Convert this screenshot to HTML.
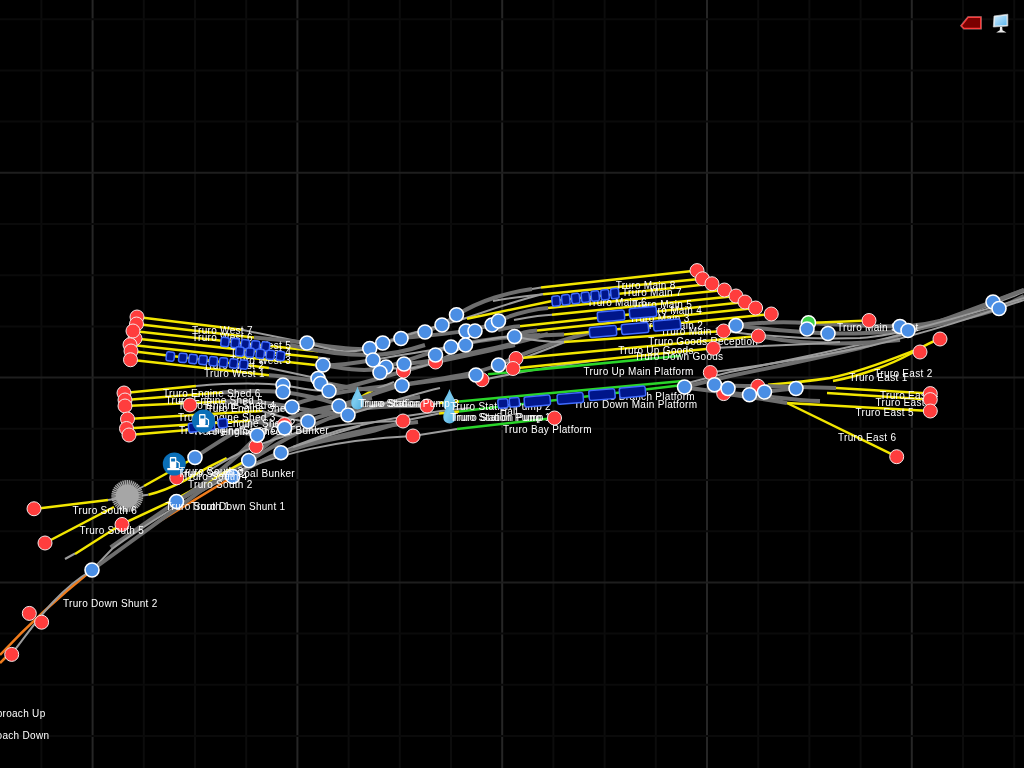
<!DOCTYPE html>
<html><head><meta charset="utf-8"><style>
html,body{margin:0;padding:0;background:#000;overflow:hidden;width:1024px;height:768px}
svg{display:block}
text{font-family:"Liberation Sans",sans-serif;font-size:10px;fill:#fff;letter-spacing:0.3px}
svg{will-change:transform}
</style></head><body>
<svg width="1024" height="768" viewBox="0 0 1024 768">
<line x1="41.4" y1="0" x2="41.4" y2="768" stroke="#0c0c0c" stroke-width="2"/>
<line x1="92.6" y1="0" x2="92.6" y2="768" stroke="#262626" stroke-width="2"/>
<line x1="143.8" y1="0" x2="143.8" y2="768" stroke="#0c0c0c" stroke-width="2"/>
<line x1="195.0" y1="0" x2="195.0" y2="768" stroke="#0c0c0c" stroke-width="2"/>
<line x1="246.2" y1="0" x2="246.2" y2="768" stroke="#0c0c0c" stroke-width="2"/>
<line x1="297.4" y1="0" x2="297.4" y2="768" stroke="#262626" stroke-width="2"/>
<line x1="348.6" y1="0" x2="348.6" y2="768" stroke="#0c0c0c" stroke-width="2"/>
<line x1="399.8" y1="0" x2="399.8" y2="768" stroke="#0c0c0c" stroke-width="2"/>
<line x1="451.0" y1="0" x2="451.0" y2="768" stroke="#0c0c0c" stroke-width="2"/>
<line x1="502.2" y1="0" x2="502.2" y2="768" stroke="#262626" stroke-width="2"/>
<line x1="553.4" y1="0" x2="553.4" y2="768" stroke="#0c0c0c" stroke-width="2"/>
<line x1="604.6" y1="0" x2="604.6" y2="768" stroke="#0c0c0c" stroke-width="2"/>
<line x1="655.8" y1="0" x2="655.8" y2="768" stroke="#0c0c0c" stroke-width="2"/>
<line x1="707.0" y1="0" x2="707.0" y2="768" stroke="#262626" stroke-width="2"/>
<line x1="758.2" y1="0" x2="758.2" y2="768" stroke="#0c0c0c" stroke-width="2"/>
<line x1="809.4" y1="0" x2="809.4" y2="768" stroke="#0c0c0c" stroke-width="2"/>
<line x1="860.6" y1="0" x2="860.6" y2="768" stroke="#0c0c0c" stroke-width="2"/>
<line x1="911.8" y1="0" x2="911.8" y2="768" stroke="#262626" stroke-width="2"/>
<line x1="963.0" y1="0" x2="963.0" y2="768" stroke="#0c0c0c" stroke-width="2"/>
<line x1="1014.2" y1="0" x2="1014.2" y2="768" stroke="#0c0c0c" stroke-width="2"/>
<line x1="0" y1="19.2" x2="1024" y2="19.2" stroke="#0a0a0a" stroke-width="2"/>
<line x1="0" y1="70.4" x2="1024" y2="70.4" stroke="#0a0a0a" stroke-width="2"/>
<line x1="0" y1="121.6" x2="1024" y2="121.6" stroke="#0a0a0a" stroke-width="2"/>
<line x1="0" y1="172.8" x2="1024" y2="172.8" stroke="#1e1e1e" stroke-width="2"/>
<line x1="0" y1="224.0" x2="1024" y2="224.0" stroke="#0a0a0a" stroke-width="2"/>
<line x1="0" y1="275.2" x2="1024" y2="275.2" stroke="#0a0a0a" stroke-width="2"/>
<line x1="0" y1="326.4" x2="1024" y2="326.4" stroke="#0a0a0a" stroke-width="2"/>
<line x1="0" y1="377.6" x2="1024" y2="377.6" stroke="#1e1e1e" stroke-width="2"/>
<line x1="0" y1="428.8" x2="1024" y2="428.8" stroke="#0a0a0a" stroke-width="2"/>
<line x1="0" y1="480.0" x2="1024" y2="480.0" stroke="#0a0a0a" stroke-width="2"/>
<line x1="0" y1="531.2" x2="1024" y2="531.2" stroke="#0a0a0a" stroke-width="2"/>
<line x1="0" y1="582.4" x2="1024" y2="582.4" stroke="#1e1e1e" stroke-width="2"/>
<line x1="0" y1="633.6" x2="1024" y2="633.6" stroke="#0a0a0a" stroke-width="2"/>
<line x1="0" y1="684.8" x2="1024" y2="684.8" stroke="#0a0a0a" stroke-width="2"/>
<line x1="0" y1="736.0" x2="1024" y2="736.0" stroke="#0a0a0a" stroke-width="2"/>
<path d="M 0 655 Q 40 612 92 570" stroke="#f07c1c" stroke-width="2.5" fill="none" stroke-linecap="butt"/>
<path d="M 0 663 L 11 652" stroke="#f07c1c" stroke-width="2.5" fill="none" stroke-linecap="butt"/>
<path d="M 11.7 654 C 35 624 55 592 92 570" stroke="#9c9c9c" stroke-width="2" fill="none" stroke-linecap="butt"/>
<path d="M 155 524 L 229 479" stroke="#f07c1c" stroke-width="2.5" fill="none" stroke-linecap="butt"/>
<path d="M 110.6 547.4 C 130 534 160 513 176 502 C 200 487 215 480 232 476 C 250 468 265 458 281 452 C 320 440 360 430 400 424 L 418 422" stroke="#6e6e6e" stroke-width="4" fill="none" stroke-linecap="butt"/>
<path d="M 92 570 L 112 549 C 140 528 170 510 200 492 C 240 470 290 445 340 430 C 380 420 420 412 470 408" stroke="#9c9c9c" stroke-width="2" fill="none" stroke-linecap="butt"/>
<path d="M 92 570 L 200 491.4 C 220 477 235 468 249 461 C 275 445 300 430 330 418 C 360 408 400 400 420 397" stroke="#6e6e6e" stroke-width="4" fill="none" stroke-linecap="butt"/>
<path d="M 65 559 L 75 553.5" stroke="#9c9c9c" stroke-width="2" fill="none" stroke-linecap="butt"/>
<path d="M 75 554 L 122 524 L 176 499 L 256 455" stroke="#f2e600" stroke-width="2.5" fill="none" stroke-linecap="butt"/>
<path d="M 34 509 L 108 500" stroke="#f2e600" stroke-width="2.5" fill="none" stroke-linecap="butt"/>
<path d="M 108 500 L 122 498" stroke="#9c9c9c" stroke-width="2" fill="none" stroke-linecap="butt"/>
<path d="M 45 543 L 114 507" stroke="#f2e600" stroke-width="2.5" fill="none" stroke-linecap="butt"/>
<path d="M 136 490.5 L 144 486" stroke="#9c9c9c" stroke-width="2" fill="none" stroke-linecap="butt"/>
<path d="M 144 486 L 195 457.5" stroke="#f2e600" stroke-width="2.5" fill="none" stroke-linecap="butt"/>
<path d="M 142 495.5 L 148.4 494.7" stroke="#9c9c9c" stroke-width="2" fill="none" stroke-linecap="butt"/>
<path d="M 148.4 494.7 C 160 492 172 487 184.4 480.6 C 195 475 205 469 209.4 466.6 L 226.6 458" stroke="#f2e600" stroke-width="2.5" fill="none" stroke-linecap="butt"/>
<path d="M 176 502 C 210 480 240 455 258 435 C 280 420 300 412 340 405 L 372 398" stroke="#6e6e6e" stroke-width="4" fill="none" stroke-linecap="butt"/>
<path d="M 195 457 C 215 445 240 425 292 405 C 320 395 360 388 402 385 L 476 375" stroke="#6e6e6e" stroke-width="4" fill="none" stroke-linecap="butt"/>
<path d="M 232 476 C 260 460 290 447 340 438 C 360 434 380 431 403 421" stroke="#6e6e6e" stroke-width="3.5" fill="none" stroke-linecap="butt"/>
<path d="M 249 461 C 265 445 280 432 308 421 C 330 412 360 405 427 406" stroke="#6e6e6e" stroke-width="4" fill="none" stroke-linecap="butt"/>
<path d="M 210 470 C 240 450 270 440 300 432 C 340 424 380 421 403 421" stroke="#9c9c9c" stroke-width="2" fill="none" stroke-linecap="butt"/>
<path d="M 240 470 C 280 455 330 440 413 436 L 457 429" stroke="#9c9c9c" stroke-width="2" fill="none" stroke-linecap="butt"/>
<path d="M 293 447 C 320 438 340 432 360 426" stroke="#9c9c9c" stroke-width="2" fill="none" stroke-linecap="butt"/>
<path d="M 457 429 L 554 418" stroke="#2ad52a" stroke-width="2.5" fill="none" stroke-linecap="butt"/>
<path d="M 348 404.4 L 372.7 390.3" stroke="#f2e600" stroke-width="2.5" fill="none" stroke-linecap="butt"/>
<path d="M 372.7 390.3 L 394 382" stroke="#9c9c9c" stroke-width="2" fill="none" stroke-linecap="butt"/>
<path d="M 403 421 L 439 413.5" stroke="#9c9c9c" stroke-width="2" fill="none" stroke-linecap="butt"/>
<path d="M 439 413.5 L 459 411.5" stroke="#f2e600" stroke-width="2.5" fill="none" stroke-linecap="butt"/>
<path d="M 459 411.5 L 683 385" stroke="#2ad52a" stroke-width="2.5" fill="none" stroke-linecap="butt"/>
<path d="M 427 406 L 439 403" stroke="#9c9c9c" stroke-width="2" fill="none" stroke-linecap="butt"/>
<path d="M 439 403 L 459 401.5" stroke="#f2e600" stroke-width="2.5" fill="none" stroke-linecap="butt"/>
<path d="M 459 401.5 L 683 381" stroke="#2ad52a" stroke-width="2.5" fill="none" stroke-linecap="butt"/>
<path d="M 684 387 L 730 376 C 760 370 800 362 860 348 C 920 330 970 310 1024 290" stroke="#6e6e6e" stroke-width="4" fill="none" stroke-linecap="butt"/>
<path d="M 684 384 L 730 372 C 780 362 840 350 900 335 C 950 322 990 305 1024 292" stroke="#9c9c9c" stroke-width="2" fill="none" stroke-linecap="butt"/>
<path d="M 124 393 L 196 386" stroke="#f2e600" stroke-width="2.5" fill="none" stroke-linecap="butt"/>
<path d="M 125 400 L 222 392.5" stroke="#f2e600" stroke-width="2.5" fill="none" stroke-linecap="butt"/>
<path d="M 125 406 L 225 401.4" stroke="#f2e600" stroke-width="2.5" fill="none" stroke-linecap="butt"/>
<path d="M 127.5 419 L 262 411" stroke="#f2e600" stroke-width="2.5" fill="none" stroke-linecap="butt"/>
<path d="M 126.5 428.5 L 250 420.7" stroke="#f2e600" stroke-width="2.5" fill="none" stroke-linecap="butt"/>
<path d="M 129 435 L 194 429.5" stroke="#f2e600" stroke-width="2.5" fill="none" stroke-linecap="butt"/>
<path d="M 196 386 C 230 383 260 383 283 385 C 300 388 315 392 330 391" stroke="#9c9c9c" stroke-width="2" fill="none" stroke-linecap="butt"/>
<path d="M 222 392.5 C 250 390 270 391 283 392 C 300 394 330 400 339 406" stroke="#6e6e6e" stroke-width="4" fill="none" stroke-linecap="butt"/>
<path d="M 225 401.4 C 250 400 276 404 292 407 C 310 412 330 412 348 415" stroke="#6e6e6e" stroke-width="4" fill="none" stroke-linecap="butt"/>
<path d="M 262 411 C 275 415 290 420 308 421.5" stroke="#9c9c9c" stroke-width="2" fill="none" stroke-linecap="butt"/>
<path d="M 250 420.7 C 262 422 275 426 284.6 428" stroke="#6e6e6e" stroke-width="4" fill="none" stroke-linecap="butt"/>
<path d="M 194 429.5 C 220 430 240 432 257 435" stroke="#6e6e6e" stroke-width="4" fill="none" stroke-linecap="butt"/>
<path d="M 300 418 C 320 410 340 406 360 403" stroke="#6e6e6e" stroke-width="4" fill="none" stroke-linecap="butt"/>
<path d="M 137 317 L 241.7 329.8" stroke="#f2e600" stroke-width="2.5" fill="none" stroke-linecap="butt"/>
<path d="M 136.5 324 L 254 337.6" stroke="#f2e600" stroke-width="2.5" fill="none" stroke-linecap="butt"/>
<path d="M 133 331 L 318 351.25" stroke="#f2e600" stroke-width="2.5" fill="none" stroke-linecap="butt"/>
<path d="M 135 338.5 L 318 357.6" stroke="#f2e600" stroke-width="2.5" fill="none" stroke-linecap="butt"/>
<path d="M 130 344.75 L 315 365" stroke="#f2e600" stroke-width="2.5" fill="none" stroke-linecap="butt"/>
<path d="M 131 351 L 269 367.9" stroke="#f2e600" stroke-width="2.5" fill="none" stroke-linecap="butt"/>
<path d="M 130.5 359.75 L 269 375.2" stroke="#f2e600" stroke-width="2.5" fill="none" stroke-linecap="butt"/>
<path d="M 241.7 329.8 L 307 343" stroke="#9c9c9c" stroke-width="2" fill="none" stroke-linecap="butt"/>
<path d="M 254 337.6 C 270 339 290 341 307 343 C 330 347 350 350 370 349" stroke="#6e6e6e" stroke-width="4" fill="none" stroke-linecap="butt"/>
<path d="M 318 351.25 L 330 352.5" stroke="#9c9c9c" stroke-width="2" fill="none" stroke-linecap="butt"/>
<path d="M 318 357.6 L 330 359" stroke="#9c9c9c" stroke-width="2" fill="none" stroke-linecap="butt"/>
<path d="M 269 367.9 L 318 378.5" stroke="#9c9c9c" stroke-width="2" fill="none" stroke-linecap="butt"/>
<path d="M 269 375.2 C 290 377 300 379 311 380 C 330 383 350 390 380 390 L 402 385" stroke="#6e6e6e" stroke-width="4" fill="none" stroke-linecap="butt"/>
<path d="M 315 365 C 330 366 345 365 373 360" stroke="#6e6e6e" stroke-width="4" fill="none" stroke-linecap="butt"/>
<path d="M 307 343 C 330 350 350 355 369 348" stroke="#9c9c9c" stroke-width="2" fill="none" stroke-linecap="butt"/>
<path d="M 290 345 C 320 352 345 355 370 355 C 390 355 410 350 425 345" stroke="#6e6e6e" stroke-width="4" fill="none" stroke-linecap="butt"/>
<path d="M 323 365 C 350 370 370 372 386 367 C 410 360 430 352 456 345 C 490 338 510 337 540 335" stroke="#6e6e6e" stroke-width="4" fill="none" stroke-linecap="butt"/>
<path d="M 329 391 C 360 385 390 375 435 362 C 470 355 500 348 515 345" stroke="#6e6e6e" stroke-width="4" fill="none" stroke-linecap="butt"/>
<path d="M 339 406 C 370 395 390 388 402 385 C 440 378 470 376 498 365 C 530 350 560 340 600 330" stroke="#6e6e6e" stroke-width="4" fill="none" stroke-linecap="butt"/>
<path d="M 348 415 C 380 405 410 395 440 388" stroke="#9c9c9c" stroke-width="2" fill="none" stroke-linecap="butt"/>
<path d="M 370 349 C 390 340 410 334 425 331 C 440 328 450 320 457 315 C 480 300 510 292 532 289" stroke="#6e6e6e" stroke-width="4" fill="none" stroke-linecap="butt"/>
<path d="M 383 343 C 400 338 420 330 442 325 C 470 318 500 305 543 294" stroke="#9c9c9c" stroke-width="2" fill="none" stroke-linecap="butt"/>
<path d="M 400 338 C 430 336 450 333 466 331 L 492 325" stroke="#6e6e6e" stroke-width="4" fill="none" stroke-linecap="butt"/>
<path d="M 373 360 C 400 355 420 352 451 347 C 470 343 490 338 514 336" stroke="#9c9c9c" stroke-width="2" fill="none" stroke-linecap="butt"/>
<path d="M 386 367 C 410 372 430 368 466 345" stroke="#9c9c9c" stroke-width="2" fill="none" stroke-linecap="butt"/>
<path d="M 404 364 C 430 362 450 358 476 352 C 500 347 520 342 548 334" stroke="#6e6e6e" stroke-width="4" fill="none" stroke-linecap="butt"/>
<path d="M 482 380 C 520 372 560 365 600 360" stroke="#9c9c9c" stroke-width="2" fill="none" stroke-linecap="butt"/>
<path d="M 498 365 C 520 360 540 352 565 342" stroke="#9c9c9c" stroke-width="2" fill="none" stroke-linecap="butt"/>
<path d="M 532 289 L 541 287.5" stroke="#9c9c9c" stroke-width="2" fill="none" stroke-linecap="butt"/>
<path d="M 541 287.5 L 697 270.6" stroke="#f2e600" stroke-width="2.5" fill="none" stroke-linecap="butt"/>
<path d="M 543 294.2 L 702.5 278.75" stroke="#f2e600" stroke-width="2.5" fill="none" stroke-linecap="butt"/>
<path d="M 467 318.8 L 552 301" stroke="#f2e600" stroke-width="2.5" fill="none" stroke-linecap="butt"/>
<path d="M 552 301 L 712 283.75" stroke="#f2e600" stroke-width="2.5" fill="none" stroke-linecap="butt"/>
<path d="M 548 308 L 724.4 290" stroke="#f2e600" stroke-width="2.5" fill="none" stroke-linecap="butt"/>
<path d="M 552 314.7 L 736 296" stroke="#f2e600" stroke-width="2.5" fill="none" stroke-linecap="butt"/>
<path d="M 520 326.3 L 745 302" stroke="#f2e600" stroke-width="2.5" fill="none" stroke-linecap="butt"/>
<path d="M 537 330.4 L 755.6 308" stroke="#f2e600" stroke-width="2.5" fill="none" stroke-linecap="butt"/>
<path d="M 564 334.5 L 771.25 314" stroke="#f2e600" stroke-width="2.5" fill="none" stroke-linecap="butt"/>
<path d="M 564 342 L 723.6 331" stroke="#f2e600" stroke-width="2.5" fill="none" stroke-linecap="butt"/>
<path d="M 516 358.5 L 758.4 336" stroke="#f2e600" stroke-width="2.5" fill="none" stroke-linecap="butt"/>
<path d="M 513 368.5 L 713.4 348.3" stroke="#f2e600" stroke-width="2.5" fill="none" stroke-linecap="butt"/>
<path d="M 488 374.3 L 681 355.7" stroke="#2ad52a" stroke-width="2.5" fill="none" stroke-linecap="butt"/>
<path d="M 500 320 C 520 312 535 309 548 308" stroke="#6e6e6e" stroke-width="4" fill="none" stroke-linecap="butt"/>
<path d="M 514 320 C 530 317 540 315 552 314.7" stroke="#9c9c9c" stroke-width="2" fill="none" stroke-linecap="butt"/>
<path d="M 498 330 C 505 328 510 327 520 326.3" stroke="#6e6e6e" stroke-width="4" fill="none" stroke-linecap="butt"/>
<path d="M 514 336.5 C 520 333 528 331 537 330.4" stroke="#6e6e6e" stroke-width="4" fill="none" stroke-linecap="butt"/>
<path d="M 514 336.5 L 564 334.5" stroke="#6e6e6e" stroke-width="4" fill="none" stroke-linecap="butt"/>
<path d="M 514 336.5 C 530 340 545 342 564 342" stroke="#9c9c9c" stroke-width="2" fill="none" stroke-linecap="butt"/>
<path d="M 493 301 C 510 298 525 296 543 294.2" stroke="#9c9c9c" stroke-width="2" fill="none" stroke-linecap="butt"/>
<path d="M 736 325.5 C 760 322 790 322 808 323 C 840 325 870 326 900 326.5 C 940 325 970 312 993 302 L 1024 290" stroke="#6e6e6e" stroke-width="4" fill="none" stroke-linecap="butt"/>
<path d="M 736 325.5 C 770 330 800 332 828 333.5 C 860 334 890 332 908 330.5 C 940 325 980 315 999 308.5 L 1024 296" stroke="#6e6e6e" stroke-width="4" fill="none" stroke-linecap="butt"/>
<path d="M 723.6 331 C 760 336 800 340 860 338 C 900 335 950 320 1024 298" stroke="#9c9c9c" stroke-width="2" fill="none" stroke-linecap="butt"/>
<path d="M 758 336 C 800 345 850 345 900 340" stroke="#6e6e6e" stroke-width="4" fill="none" stroke-linecap="butt"/>
<path d="M 713 348 C 760 346 800 345 840 342" stroke="#9c9c9c" stroke-width="2" fill="none" stroke-linecap="butt"/>
<path d="M 710 372.5 C 760 366 820 356 870 346 C 930 332 980 315 1024 300" stroke="#9c9c9c" stroke-width="2" fill="none" stroke-linecap="butt"/>
<path d="M 808 323 L 869 320.5" stroke="#f2e600" stroke-width="2.5" fill="none" stroke-linecap="butt"/>
<path d="M 768 384.75 C 790 383 810 381 830 378 C 860 372 890 360 913 351 L 920 352" stroke="#f2e600" stroke-width="2.5" fill="none" stroke-linecap="butt"/>
<path d="M 833 381 C 860 376 890 365 910 354 C 922 347 930 342 940 339" stroke="#f2e600" stroke-width="2.5" fill="none" stroke-linecap="butt"/>
<path d="M 764 392 C 780 390 790 389 796 388.5" stroke="#6e6e6e" stroke-width="4" fill="none" stroke-linecap="butt"/>
<path d="M 684 387 C 700 390 720 392 750 395 C 770 396 790 400 820 401" stroke="#6e6e6e" stroke-width="4" fill="none" stroke-linecap="butt"/>
<path d="M 787 403 L 930 411" stroke="#f2e600" stroke-width="2.5" fill="none" stroke-linecap="butt"/>
<path d="M 827 393 L 930 399.6" stroke="#f2e600" stroke-width="2.5" fill="none" stroke-linecap="butt"/>
<path d="M 836 388 L 930 393.6" stroke="#f2e600" stroke-width="2.5" fill="none" stroke-linecap="butt"/>
<path d="M 787 403 L 896.7 456.7" stroke="#f2e600" stroke-width="2.5" fill="none" stroke-linecap="butt"/>
<path d="M 764 397 L 787 403" stroke="#9c9c9c" stroke-width="2" fill="none" stroke-linecap="butt"/>
<path d="M 714 384.75 C 730 386 740 386 758 386 L 836 388" stroke="#6e6e6e" stroke-width="4" fill="none" stroke-linecap="butt"/>
<path d="M 723.7 393.6 C 740 396 760 398 787 403" stroke="#6e6e6e" stroke-width="4" fill="none" stroke-linecap="butt"/>
<circle cx="808.5" cy="322.7" r="7" fill="#3fd44a" stroke="#fff" stroke-width="1.5"/>
<defs><linearGradient id="drp" x1="0" y1="0" x2="1" y2="1"><stop offset="0" stop-color="#4fb0e0"/><stop offset="0.45" stop-color="#7cccf0"/><stop offset="1" stop-color="#4aa8dc"/></linearGradient></defs>
<path d="M 357.5 386.5 C 359.5 393.4 363.75 397.625 363.75 403.25 A 6.25 6.25 0 0 1 351.25 403.25 C 351.25 397.625 355.5 393.4 357.5 386.5 Z" fill="url(#drp)"/>
<path d="M 449.5 389 C 451.5 395.6 455.75 399.125 455.75 404.75 A 6.25 6.25 0 0 1 443.25 404.75 C 443.25 399.125 447.5 395.6 449.5 389 Z" fill="url(#drp)"/>
<path d="M 449.5 401 C 451.5 407.75 455.75 411.625 455.75 417.25 A 6.25 6.25 0 0 1 443.25 417.25 C 443.25 411.625 447.5 407.75 449.5 401 Z" fill="url(#drp)"/>
<text x="192" y="333.5" text-anchor="start">Truro West 7</text>
<text x="192" y="340.5" text-anchor="start">Truro West 6</text>
<text x="291" y="349" text-anchor="end">Truro West 5</text>
<text x="291" y="355.5" text-anchor="end">Truro West 4</text>
<text x="291" y="364" text-anchor="end">Truro West 3</text>
<text x="264" y="368.5" text-anchor="end">Truro West 2</text>
<text x="204" y="376.5" text-anchor="start">Truro West 1</text>
<text x="163" y="397" text-anchor="start">Truro Engine Shed 6</text>
<text x="165.5" y="404" text-anchor="start">Truro Engine Shed 5</text>
<text x="178" y="409" text-anchor="start">Truro Engine Shed 4</text>
<text x="203" y="411.5" text-anchor="start">Truro Engine Shed 4</text>
<text x="178" y="421" text-anchor="start">Truro Engine Shed 3</text>
<text x="295.5" y="426.5" text-anchor="end">Truro Engine Shed 2</text>
<text x="193" y="435.3" text-anchor="start">Truro Engine Shed 1</text>
<text x="329" y="433.5" text-anchor="end">Truro Engine Shed Coal Bunker</text>
<text x="63" y="606.5" text-anchor="start">Truro Down Shunt 2</text>
<text x="45.5" y="717.3" text-anchor="end">Truro Approach Up</text>
<text x="49.3" y="738.5" text-anchor="end">Truro Approach Down</text>
<text x="450.3" y="409.7" text-anchor="start">Truro Station Pump 2</text>
<text x="450.3" y="420.5" text-anchor="start">Truro Station Pump 1</text>
<text x="452" y="420.5" text-anchor="start">Truro Station Pump</text>
<text x="499.7" y="415" text-anchor="start">Hall</text>
<text x="615.75" y="288.5" text-anchor="start">Truro Main 8</text>
<text x="622" y="295.5" text-anchor="start">Truro Main 7</text>
<text x="587" y="306" text-anchor="start">Truro Main 6</text>
<text x="692" y="307.75" text-anchor="end">Truro Main 5</text>
<text x="702" y="314" text-anchor="end">Truro Main 4</text>
<text x="689.5" y="321.5" text-anchor="end">Truro Main 3</text>
<text x="703" y="328.5" text-anchor="end">Truro Main 2</text>
<text x="720.5" y="334.75" text-anchor="end">Truro Main 1</text>
<text x="648.25" y="344.75" text-anchor="start">Truro Goods Reception</text>
<text x="618.25" y="354" text-anchor="start">Truro Up Goods</text>
<text x="634.5" y="359.75" text-anchor="start">Truro Down Goods</text>
<text x="583.5" y="374.6" text-anchor="start">Truro Up Main Platform</text>
<text x="695" y="399.7" text-anchor="end">Truro Branch Platform</text>
<text x="573.8" y="408.3" text-anchor="start">Truro Down Main Platform</text>
<text x="502.9" y="433" text-anchor="start">Truro Bay Platform</text>
<text x="837" y="330.5" text-anchor="start">Truro Main Shunt</text>
<text x="874.25" y="377.25" text-anchor="start">Truro East 2</text>
<text x="849.25" y="380.5" text-anchor="start">Truro East 1</text>
<text x="880" y="399" text-anchor="start">Truro East 4</text>
<text x="875.5" y="405.5" text-anchor="start">Truro East 3</text>
<text x="855.5" y="415.5" text-anchor="start">Truro East 5</text>
<text x="838" y="440.5" text-anchor="start">Truro East 6</text>
<circle cx="137" cy="317" r="7" fill="#ff3d3d" stroke="#f4e8e8" stroke-width="1"/>
<circle cx="136.5" cy="324" r="7" fill="#ff3d3d" stroke="#f4e8e8" stroke-width="1"/>
<circle cx="135" cy="338.5" r="7" fill="#ff3d3d" stroke="#f4e8e8" stroke-width="1"/>
<circle cx="130" cy="344.75" r="7" fill="#ff3d3d" stroke="#f4e8e8" stroke-width="1"/>
<circle cx="131" cy="351" r="7" fill="#ff3d3d" stroke="#f4e8e8" stroke-width="1"/>
<circle cx="130.5" cy="359.75" r="7" fill="#ff3d3d" stroke="#f4e8e8" stroke-width="1"/>
<circle cx="133" cy="331" r="7" fill="#ff3d3d" stroke="#f4e8e8" stroke-width="1"/>
<circle cx="124" cy="393" r="7" fill="#ff3d3d" stroke="#f4e8e8" stroke-width="1"/>
<circle cx="125" cy="400" r="7" fill="#ff3d3d" stroke="#f4e8e8" stroke-width="1"/>
<circle cx="125" cy="406" r="7" fill="#ff3d3d" stroke="#f4e8e8" stroke-width="1"/>
<circle cx="127.5" cy="419" r="7" fill="#ff3d3d" stroke="#f4e8e8" stroke-width="1"/>
<circle cx="126.5" cy="428.5" r="7" fill="#ff3d3d" stroke="#f4e8e8" stroke-width="1"/>
<circle cx="129" cy="435" r="7" fill="#ff3d3d" stroke="#f4e8e8" stroke-width="1"/>
<circle cx="190" cy="405" r="7" fill="#ff3d3d" stroke="#f4e8e8" stroke-width="1"/>
<circle cx="256" cy="446.5" r="7" fill="#ff3d3d" stroke="#f4e8e8" stroke-width="1"/>
<circle cx="284.5" cy="424.5" r="7" fill="#ff3d3d" stroke="#f4e8e8" stroke-width="1"/>
<circle cx="176.75" cy="477.75" r="7" fill="#ff3d3d" stroke="#f4e8e8" stroke-width="1"/>
<circle cx="403.5" cy="371" r="7" fill="#ff3d3d" stroke="#f4e8e8" stroke-width="1"/>
<circle cx="435.5" cy="362" r="7" fill="#ff3d3d" stroke="#f4e8e8" stroke-width="1"/>
<circle cx="482" cy="379.75" r="7" fill="#ff3d3d" stroke="#f4e8e8" stroke-width="1"/>
<circle cx="427" cy="406" r="7" fill="#ff3d3d" stroke="#f4e8e8" stroke-width="1"/>
<circle cx="403" cy="421" r="7" fill="#ff3d3d" stroke="#f4e8e8" stroke-width="1"/>
<circle cx="413" cy="436" r="7" fill="#ff3d3d" stroke="#f4e8e8" stroke-width="1"/>
<circle cx="516" cy="358.5" r="7" fill="#ff3d3d" stroke="#f4e8e8" stroke-width="1"/>
<circle cx="513" cy="368.5" r="7" fill="#ff3d3d" stroke="#f4e8e8" stroke-width="1"/>
<circle cx="554.5" cy="418" r="7" fill="#ff3d3d" stroke="#f4e8e8" stroke-width="1"/>
<circle cx="697" cy="270.6" r="7" fill="#ff3d3d" stroke="#f4e8e8" stroke-width="1"/>
<circle cx="702.5" cy="278.75" r="7" fill="#ff3d3d" stroke="#f4e8e8" stroke-width="1"/>
<circle cx="712" cy="283.75" r="7" fill="#ff3d3d" stroke="#f4e8e8" stroke-width="1"/>
<circle cx="724.4" cy="290" r="7" fill="#ff3d3d" stroke="#f4e8e8" stroke-width="1"/>
<circle cx="736" cy="296" r="7" fill="#ff3d3d" stroke="#f4e8e8" stroke-width="1"/>
<circle cx="745" cy="302" r="7" fill="#ff3d3d" stroke="#f4e8e8" stroke-width="1"/>
<circle cx="755.6" cy="308" r="7" fill="#ff3d3d" stroke="#f4e8e8" stroke-width="1"/>
<circle cx="771.25" cy="314" r="7" fill="#ff3d3d" stroke="#f4e8e8" stroke-width="1"/>
<circle cx="723.6" cy="331" r="7" fill="#ff3d3d" stroke="#f4e8e8" stroke-width="1"/>
<circle cx="758.4" cy="336" r="7" fill="#ff3d3d" stroke="#f4e8e8" stroke-width="1"/>
<circle cx="713.4" cy="348.3" r="7" fill="#ff3d3d" stroke="#f4e8e8" stroke-width="1"/>
<circle cx="710.3" cy="372.5" r="7" fill="#ff3d3d" stroke="#f4e8e8" stroke-width="1"/>
<circle cx="723.7" cy="393.6" r="7" fill="#ff3d3d" stroke="#f4e8e8" stroke-width="1"/>
<circle cx="757.9" cy="386.2" r="7" fill="#ff3d3d" stroke="#f4e8e8" stroke-width="1"/>
<circle cx="869" cy="320.5" r="7" fill="#ff3d3d" stroke="#f4e8e8" stroke-width="1"/>
<circle cx="940" cy="339" r="7" fill="#ff3d3d" stroke="#f4e8e8" stroke-width="1"/>
<circle cx="920" cy="352" r="7" fill="#ff3d3d" stroke="#f4e8e8" stroke-width="1"/>
<circle cx="930.3" cy="393.6" r="7" fill="#ff3d3d" stroke="#f4e8e8" stroke-width="1"/>
<circle cx="930.3" cy="399.6" r="7" fill="#ff3d3d" stroke="#f4e8e8" stroke-width="1"/>
<circle cx="930.3" cy="411" r="7" fill="#ff3d3d" stroke="#f4e8e8" stroke-width="1"/>
<circle cx="896.7" cy="456.7" r="7" fill="#ff3d3d" stroke="#f4e8e8" stroke-width="1"/>
<circle cx="34" cy="508.75" r="7" fill="#ff3d3d" stroke="#f4e8e8" stroke-width="1"/>
<circle cx="45" cy="543" r="7" fill="#ff3d3d" stroke="#f4e8e8" stroke-width="1"/>
<circle cx="122" cy="524.5" r="7" fill="#ff3d3d" stroke="#f4e8e8" stroke-width="1"/>
<circle cx="29.3" cy="613.4" r="7" fill="#ff3d3d" stroke="#f4e8e8" stroke-width="1"/>
<circle cx="41.6" cy="622.2" r="7" fill="#ff3d3d" stroke="#f4e8e8" stroke-width="1"/>
<circle cx="11.7" cy="654.4" r="7" fill="#ff3d3d" stroke="#f4e8e8" stroke-width="1"/>
<circle cx="307" cy="343" r="7" fill="#4a8ee4" stroke="#ffffff" stroke-width="1.6"/>
<circle cx="323" cy="365" r="7" fill="#4a8ee4" stroke="#ffffff" stroke-width="1.6"/>
<circle cx="318" cy="378.5" r="7" fill="#4a8ee4" stroke="#ffffff" stroke-width="1.6"/>
<circle cx="320.5" cy="383.5" r="7" fill="#4a8ee4" stroke="#ffffff" stroke-width="1.6"/>
<circle cx="329" cy="391" r="7" fill="#4a8ee4" stroke="#ffffff" stroke-width="1.6"/>
<circle cx="283" cy="385" r="7" fill="#4a8ee4" stroke="#ffffff" stroke-width="1.6"/>
<circle cx="283" cy="392" r="7" fill="#4a8ee4" stroke="#ffffff" stroke-width="1.6"/>
<circle cx="292" cy="407" r="7" fill="#4a8ee4" stroke="#ffffff" stroke-width="1.6"/>
<circle cx="308" cy="421.5" r="7" fill="#4a8ee4" stroke="#ffffff" stroke-width="1.6"/>
<circle cx="284.6" cy="428.1" r="7" fill="#4a8ee4" stroke="#ffffff" stroke-width="1.6"/>
<circle cx="369.75" cy="348.5" r="7" fill="#4a8ee4" stroke="#ffffff" stroke-width="1.6"/>
<circle cx="382.75" cy="343" r="7" fill="#4a8ee4" stroke="#ffffff" stroke-width="1.6"/>
<circle cx="373" cy="360" r="7" fill="#4a8ee4" stroke="#ffffff" stroke-width="1.6"/>
<circle cx="386" cy="367" r="7" fill="#4a8ee4" stroke="#ffffff" stroke-width="1.6"/>
<circle cx="380" cy="372.5" r="7" fill="#4a8ee4" stroke="#ffffff" stroke-width="1.6"/>
<circle cx="401" cy="338.5" r="7" fill="#4a8ee4" stroke="#ffffff" stroke-width="1.6"/>
<circle cx="404" cy="364" r="7" fill="#4a8ee4" stroke="#ffffff" stroke-width="1.6"/>
<circle cx="402" cy="385.5" r="7" fill="#4a8ee4" stroke="#ffffff" stroke-width="1.6"/>
<circle cx="339" cy="406" r="7" fill="#4a8ee4" stroke="#ffffff" stroke-width="1.6"/>
<circle cx="348" cy="415" r="7" fill="#4a8ee4" stroke="#ffffff" stroke-width="1.6"/>
<circle cx="425" cy="332" r="7" fill="#4a8ee4" stroke="#ffffff" stroke-width="1.6"/>
<circle cx="442" cy="325" r="7" fill="#4a8ee4" stroke="#ffffff" stroke-width="1.6"/>
<circle cx="456.5" cy="314.75" r="7" fill="#4a8ee4" stroke="#ffffff" stroke-width="1.6"/>
<circle cx="451" cy="347" r="7" fill="#4a8ee4" stroke="#ffffff" stroke-width="1.6"/>
<circle cx="435.5" cy="355" r="7" fill="#4a8ee4" stroke="#ffffff" stroke-width="1.6"/>
<circle cx="466" cy="331" r="7" fill="#4a8ee4" stroke="#ffffff" stroke-width="1.6"/>
<circle cx="475" cy="331" r="7" fill="#4a8ee4" stroke="#ffffff" stroke-width="1.6"/>
<circle cx="465.5" cy="345" r="7" fill="#4a8ee4" stroke="#ffffff" stroke-width="1.6"/>
<circle cx="492" cy="325" r="7" fill="#4a8ee4" stroke="#ffffff" stroke-width="1.6"/>
<circle cx="498.5" cy="321" r="7" fill="#4a8ee4" stroke="#ffffff" stroke-width="1.6"/>
<circle cx="498.5" cy="365" r="7" fill="#4a8ee4" stroke="#ffffff" stroke-width="1.6"/>
<circle cx="476" cy="375" r="7" fill="#4a8ee4" stroke="#ffffff" stroke-width="1.6"/>
<circle cx="514.5" cy="336.5" r="7" fill="#4a8ee4" stroke="#ffffff" stroke-width="1.6"/>
<circle cx="736" cy="325.5" r="7" fill="#4a8ee4" stroke="#ffffff" stroke-width="1.6"/>
<circle cx="684.5" cy="387" r="7" fill="#4a8ee4" stroke="#ffffff" stroke-width="1.6"/>
<circle cx="714.5" cy="384.75" r="7" fill="#4a8ee4" stroke="#ffffff" stroke-width="1.6"/>
<circle cx="728" cy="388.5" r="7" fill="#4a8ee4" stroke="#ffffff" stroke-width="1.6"/>
<circle cx="749.5" cy="394.75" r="7" fill="#4a8ee4" stroke="#ffffff" stroke-width="1.6"/>
<circle cx="764.5" cy="392" r="7" fill="#4a8ee4" stroke="#ffffff" stroke-width="1.6"/>
<circle cx="807" cy="329" r="7" fill="#4a8ee4" stroke="#ffffff" stroke-width="1.6"/>
<circle cx="828" cy="333.5" r="7" fill="#4a8ee4" stroke="#ffffff" stroke-width="1.6"/>
<circle cx="900" cy="326.5" r="7" fill="#4a8ee4" stroke="#ffffff" stroke-width="1.6"/>
<circle cx="908" cy="330.5" r="7" fill="#4a8ee4" stroke="#ffffff" stroke-width="1.6"/>
<circle cx="993" cy="302" r="7" fill="#4a8ee4" stroke="#ffffff" stroke-width="1.6"/>
<circle cx="999" cy="308.5" r="7" fill="#4a8ee4" stroke="#ffffff" stroke-width="1.6"/>
<circle cx="796" cy="388.5" r="7" fill="#4a8ee4" stroke="#ffffff" stroke-width="1.6"/>
<circle cx="92" cy="570" r="7" fill="#4a8ee4" stroke="#ffffff" stroke-width="1.6"/>
<circle cx="176.5" cy="501.5" r="7" fill="#4a8ee4" stroke="#ffffff" stroke-width="1.6"/>
<circle cx="195" cy="457.5" r="7" fill="#4a8ee4" stroke="#ffffff" stroke-width="1.6"/>
<circle cx="248.75" cy="460.5" r="7" fill="#4a8ee4" stroke="#ffffff" stroke-width="1.6"/>
<circle cx="232.7" cy="476.5" r="7" fill="#4a8ee4" stroke="#ffffff" stroke-width="1.6"/>
<circle cx="257.3" cy="435.2" r="7" fill="#4a8ee4" stroke="#ffffff" stroke-width="1.6"/>
<circle cx="281" cy="452.7" r="7" fill="#4a8ee4" stroke="#ffffff" stroke-width="1.6"/>
<rect x="221.0" y="337.5" width="8" height="9" rx="2" fill="#00168a" stroke="#3f6bff" stroke-width="1.5" transform="rotate(6 225 342.0)"/>
<rect x="231.2" y="338.622" width="8" height="9" rx="2" fill="#00168a" stroke="#3f6bff" stroke-width="1.5" transform="rotate(6 235.2 343.122)"/>
<rect x="241.3" y="339.733" width="8" height="9" rx="2" fill="#00168a" stroke="#3f6bff" stroke-width="1.5" transform="rotate(6 245.3 344.233)"/>
<rect x="251.5" y="340.855" width="8" height="9" rx="2" fill="#00168a" stroke="#3f6bff" stroke-width="1.5" transform="rotate(6 255.5 345.355)"/>
<rect x="261.6" y="341.966" width="8" height="9" rx="2" fill="#00168a" stroke="#3f6bff" stroke-width="1.5" transform="rotate(6 265.6 346.466)"/>
<rect x="235.8" y="347.0" width="8" height="9" rx="2" fill="#00168a" stroke="#3f6bff" stroke-width="1.5" transform="rotate(6 239.8 351.5)"/>
<rect x="246.0" y="348.122" width="8" height="9" rx="2" fill="#00168a" stroke="#3f6bff" stroke-width="1.5" transform="rotate(6 250 352.622)"/>
<rect x="256.2" y="349.24399999999997" width="8" height="9" rx="2" fill="#00168a" stroke="#3f6bff" stroke-width="1.5" transform="rotate(6 260.2 353.74399999999997)"/>
<rect x="266.3" y="350.355" width="8" height="9" rx="2" fill="#00168a" stroke="#3f6bff" stroke-width="1.5" transform="rotate(6 270.3 354.855)"/>
<rect x="276.5" y="351.477" width="8" height="9" rx="2" fill="#00168a" stroke="#3f6bff" stroke-width="1.5" transform="rotate(6 280.5 355.977)"/>
<rect x="166.3" y="352.0" width="8" height="9" rx="2" fill="#00168a" stroke="#3f6bff" stroke-width="1.5" transform="rotate(6 170.3 356.5)"/>
<rect x="178.8" y="353.375" width="8" height="9" rx="2" fill="#00168a" stroke="#3f6bff" stroke-width="1.5" transform="rotate(6 182.8 357.875)"/>
<rect x="189.0" y="354.497" width="8" height="9" rx="2" fill="#00168a" stroke="#3f6bff" stroke-width="1.5" transform="rotate(6 193 358.997)"/>
<rect x="199.0" y="355.597" width="8" height="9" rx="2" fill="#00168a" stroke="#3f6bff" stroke-width="1.5" transform="rotate(6 203 360.097)"/>
<rect x="209.3" y="356.73" width="8" height="9" rx="2" fill="#00168a" stroke="#3f6bff" stroke-width="1.5" transform="rotate(6 213.3 361.23)"/>
<rect x="219.4" y="357.841" width="8" height="9" rx="2" fill="#00168a" stroke="#3f6bff" stroke-width="1.5" transform="rotate(6 223.4 362.341)"/>
<rect x="229.6" y="358.963" width="8" height="9" rx="2" fill="#00168a" stroke="#3f6bff" stroke-width="1.5" transform="rotate(6 233.6 363.463)"/>
<rect x="239.75" y="360.0795" width="8" height="9" rx="2" fill="#00168a" stroke="#3f6bff" stroke-width="1.5" transform="rotate(6 243.75 364.5795)"/>
<rect x="552.0" y="296.0" width="8" height="10" rx="2" fill="#00168a" stroke="#3f6bff" stroke-width="1.5" transform="rotate(-5 556.0 301.0)"/>
<rect x="561.8" y="294.75" width="8" height="10" rx="2" fill="#00168a" stroke="#3f6bff" stroke-width="1.5" transform="rotate(-5 565.8 299.75)"/>
<rect x="571.6" y="293.5" width="8" height="10" rx="2" fill="#00168a" stroke="#3f6bff" stroke-width="1.5" transform="rotate(-5 575.6 298.5)"/>
<rect x="581.4" y="292.25" width="8" height="10" rx="2" fill="#00168a" stroke="#3f6bff" stroke-width="1.5" transform="rotate(-5 585.4 297.25)"/>
<rect x="591.2" y="291.0" width="8" height="10" rx="2" fill="#00168a" stroke="#3f6bff" stroke-width="1.5" transform="rotate(-5 595.2 296.0)"/>
<rect x="601.0" y="289.75" width="8" height="10" rx="2" fill="#00168a" stroke="#3f6bff" stroke-width="1.5" transform="rotate(-5 605.0 294.75)"/>
<rect x="610.8" y="288.5" width="8" height="10" rx="2" fill="#00168a" stroke="#3f6bff" stroke-width="1.5" transform="rotate(-5 614.8 293.5)"/>
<rect x="597.5" y="311.0" width="27" height="10" rx="2" fill="#00168a" stroke="#3f6bff" stroke-width="1.5" transform="rotate(-5 611 316)"/>
<rect x="629.5" y="307.5" width="27" height="10" rx="2" fill="#00168a" stroke="#3f6bff" stroke-width="1.5" transform="rotate(-5 643 312.5)"/>
<rect x="589.5" y="326.5" width="27" height="10" rx="2" fill="#00168a" stroke="#3f6bff" stroke-width="1.5" transform="rotate(-5 603 331.5)"/>
<rect x="621.5" y="323.5" width="27" height="10" rx="2" fill="#00168a" stroke="#3f6bff" stroke-width="1.5" transform="rotate(-5 635 328.5)"/>
<rect x="653.5" y="320.0" width="27" height="10" rx="2" fill="#00168a" stroke="#3f6bff" stroke-width="1.5" transform="rotate(-5 667 325)"/>
<rect x="524.3" y="396.0" width="26" height="10" rx="2" fill="#00168a" stroke="#3f6bff" stroke-width="1.5" transform="rotate(-5 537.3 401)"/>
<rect x="557.3" y="393.4" width="26" height="10" rx="2" fill="#00168a" stroke="#3f6bff" stroke-width="1.5" transform="rotate(-5 570.3 398.4)"/>
<rect x="589.0" y="389.6" width="26" height="10" rx="2" fill="#00168a" stroke="#3f6bff" stroke-width="1.5" transform="rotate(-5 602 394.6)"/>
<rect x="619.5" y="387.0" width="26" height="10" rx="2" fill="#00168a" stroke="#3f6bff" stroke-width="1.5" transform="rotate(-5 632.5 392)"/>
<rect x="498.0" y="399.0" width="10" height="9" rx="2" fill="#00168a" stroke="#3f6bff" stroke-width="1.5" transform="rotate(-5 503 403.5)"/>
<rect x="509.4" y="397.7" width="10" height="9" rx="2" fill="#00168a" stroke="#3f6bff" stroke-width="1.5" transform="rotate(-5 514.4 402.2)"/>
<rect x="188.5" y="423.0" width="9" height="9" rx="2" fill="#00168a" stroke="#3f6bff" stroke-width="1.5" transform="rotate(-5 193 427.5)"/>
<rect x="205.5" y="421.0" width="9" height="9" rx="2" fill="#00168a" stroke="#3f6bff" stroke-width="1.5" transform="rotate(-5 210 425.5)"/>
<rect x="218.3" y="418.8" width="9" height="9" rx="2" fill="#00168a" stroke="#3f6bff" stroke-width="1.5" transform="rotate(-5 222.8 423.3)"/>
<g transform="translate(203.5 421)"><circle r="11.5" fill="#0a6fb8"/>
<rect x="-4.5" y="-7" width="6.5" height="11" rx="1" fill="#fff"/><rect x="-3.2" y="-5.5" width="4" height="3" fill="#0a6fb8"/>
<rect x="-7" y="4" width="12" height="2.2" fill="#fff"/><path d="M2 -3 L5 -1 L5 4" stroke="#fff" stroke-width="1.2" fill="none"/></g>
<g transform="translate(174.3 464)"><circle r="11.5" fill="#0a6fb8"/>
<rect x="-4.5" y="-7" width="6.5" height="11" rx="1" fill="#fff"/><rect x="-3.2" y="-5.5" width="4" height="3" fill="#0a6fb8"/>
<rect x="-7" y="4" width="12" height="2.2" fill="#fff"/><path d="M2 -3 L5 -1 L5 4" stroke="#fff" stroke-width="1.2" fill="none"/></g>
<g transform="translate(127.3 496)">
<line x1="8.00" y1="0.00" x2="16.00" y2="0.00" stroke="#a4a4a4" stroke-width="1.5"/>
<line x1="7.92" y1="1.14" x2="15.84" y2="2.28" stroke="#a4a4a4" stroke-width="1.5"/>
<line x1="7.68" y1="2.25" x2="15.35" y2="4.51" stroke="#a4a4a4" stroke-width="1.5"/>
<line x1="7.28" y1="3.32" x2="14.55" y2="6.65" stroke="#a4a4a4" stroke-width="1.5"/>
<line x1="6.73" y1="4.33" x2="13.46" y2="8.65" stroke="#a4a4a4" stroke-width="1.5"/>
<line x1="6.05" y1="5.24" x2="12.09" y2="10.48" stroke="#a4a4a4" stroke-width="1.5"/>
<line x1="5.24" y1="6.05" x2="10.48" y2="12.09" stroke="#a4a4a4" stroke-width="1.5"/>
<line x1="4.33" y1="6.73" x2="8.65" y2="13.46" stroke="#a4a4a4" stroke-width="1.5"/>
<line x1="3.32" y1="7.28" x2="6.65" y2="14.55" stroke="#a4a4a4" stroke-width="1.5"/>
<line x1="2.25" y1="7.68" x2="4.51" y2="15.35" stroke="#a4a4a4" stroke-width="1.5"/>
<line x1="1.14" y1="7.92" x2="2.28" y2="15.84" stroke="#a4a4a4" stroke-width="1.5"/>
<line x1="0.00" y1="8.00" x2="0.00" y2="16.00" stroke="#a4a4a4" stroke-width="1.5"/>
<line x1="-1.14" y1="7.92" x2="-2.28" y2="15.84" stroke="#a4a4a4" stroke-width="1.5"/>
<line x1="-2.25" y1="7.68" x2="-4.51" y2="15.35" stroke="#a4a4a4" stroke-width="1.5"/>
<line x1="-3.32" y1="7.28" x2="-6.65" y2="14.55" stroke="#a4a4a4" stroke-width="1.5"/>
<line x1="-4.33" y1="6.73" x2="-8.65" y2="13.46" stroke="#a4a4a4" stroke-width="1.5"/>
<line x1="-5.24" y1="6.05" x2="-10.48" y2="12.09" stroke="#a4a4a4" stroke-width="1.5"/>
<line x1="-6.05" y1="5.24" x2="-12.09" y2="10.48" stroke="#a4a4a4" stroke-width="1.5"/>
<line x1="-6.73" y1="4.33" x2="-13.46" y2="8.65" stroke="#a4a4a4" stroke-width="1.5"/>
<line x1="-7.28" y1="3.32" x2="-14.55" y2="6.65" stroke="#a4a4a4" stroke-width="1.5"/>
<line x1="-7.68" y1="2.25" x2="-15.35" y2="4.51" stroke="#a4a4a4" stroke-width="1.5"/>
<line x1="-7.92" y1="1.14" x2="-15.84" y2="2.28" stroke="#a4a4a4" stroke-width="1.5"/>
<line x1="-8.00" y1="0.00" x2="-16.00" y2="0.00" stroke="#a4a4a4" stroke-width="1.5"/>
<line x1="-7.92" y1="-1.14" x2="-15.84" y2="-2.28" stroke="#a4a4a4" stroke-width="1.5"/>
<line x1="-7.68" y1="-2.25" x2="-15.35" y2="-4.51" stroke="#a4a4a4" stroke-width="1.5"/>
<line x1="-7.28" y1="-3.32" x2="-14.55" y2="-6.65" stroke="#a4a4a4" stroke-width="1.5"/>
<line x1="-6.73" y1="-4.33" x2="-13.46" y2="-8.65" stroke="#a4a4a4" stroke-width="1.5"/>
<line x1="-6.05" y1="-5.24" x2="-12.09" y2="-10.48" stroke="#a4a4a4" stroke-width="1.5"/>
<line x1="-5.24" y1="-6.05" x2="-10.48" y2="-12.09" stroke="#a4a4a4" stroke-width="1.5"/>
<line x1="-4.33" y1="-6.73" x2="-8.65" y2="-13.46" stroke="#a4a4a4" stroke-width="1.5"/>
<line x1="-3.32" y1="-7.28" x2="-6.65" y2="-14.55" stroke="#a4a4a4" stroke-width="1.5"/>
<line x1="-2.25" y1="-7.68" x2="-4.51" y2="-15.35" stroke="#a4a4a4" stroke-width="1.5"/>
<line x1="-1.14" y1="-7.92" x2="-2.28" y2="-15.84" stroke="#a4a4a4" stroke-width="1.5"/>
<line x1="-0.00" y1="-8.00" x2="-0.00" y2="-16.00" stroke="#a4a4a4" stroke-width="1.5"/>
<line x1="1.14" y1="-7.92" x2="2.28" y2="-15.84" stroke="#a4a4a4" stroke-width="1.5"/>
<line x1="2.25" y1="-7.68" x2="4.51" y2="-15.35" stroke="#a4a4a4" stroke-width="1.5"/>
<line x1="3.32" y1="-7.28" x2="6.65" y2="-14.55" stroke="#a4a4a4" stroke-width="1.5"/>
<line x1="4.33" y1="-6.73" x2="8.65" y2="-13.46" stroke="#a4a4a4" stroke-width="1.5"/>
<line x1="5.24" y1="-6.05" x2="10.48" y2="-12.09" stroke="#a4a4a4" stroke-width="1.5"/>
<line x1="6.05" y1="-5.24" x2="12.09" y2="-10.48" stroke="#a4a4a4" stroke-width="1.5"/>
<line x1="6.73" y1="-4.33" x2="13.46" y2="-8.65" stroke="#a4a4a4" stroke-width="1.5"/>
<line x1="7.28" y1="-3.32" x2="14.55" y2="-6.65" stroke="#a4a4a4" stroke-width="1.5"/>
<line x1="7.68" y1="-2.25" x2="15.35" y2="-4.51" stroke="#a4a4a4" stroke-width="1.5"/>
<line x1="7.92" y1="-1.14" x2="15.84" y2="-2.28" stroke="#a4a4a4" stroke-width="1.5"/>
<circle r="11.5" fill="#a6a6a6"/></g>
<path d="M 961.5 25.8 L 968.2 17.4 L 980.6 17.4 L 980.6 28.4 L 964 28.4 Z" fill="none" stroke="#ffb0b0" stroke-width="2.4" opacity="0.6"/>
<path d="M 961.5 25.8 L 968.2 17.4 L 980.6 17.4 L 980.6 28.4 L 964 28.4 Z" fill="#7a0000" stroke="#ff3b3b" stroke-width="1.1"/>
<defs><linearGradient id="scr" x1="0" y1="0" x2="1" y2="1"><stop offset="0" stop-color="#cfeafc"/><stop offset="1" stop-color="#5cb8f0"/></linearGradient></defs>
<g><path d="M 994 16 L 1007.8 14.2 L 1007.8 26 L 993.3 27 Z" fill="#eef1f3" stroke="#c9d0d4" stroke-width="0.7"/><path d="M 995 17 L 1006.6 15.6 L 1006.6 24.9 L 994.6 25.8 Z" fill="url(#scr)"/><path d="M 1000 27 L 1002.2 27 L 1002.5 30.2 L 1006.5 32.6 L 996.2 32.6 L 999.8 30.2 Z" fill="#ececec"/></g>
<text x="295" y="477" text-anchor="end">Truro South Coal Bunker</text>
<text x="179" y="475.3" text-anchor="start">Truro South 3</text>
<text x="183" y="480" text-anchor="start">Truro South 4</text>
<text x="188" y="487.8" text-anchor="start">Truro South 2</text>
<text x="165.5" y="510.3" text-anchor="start">Truro South 1</text>
<text x="285.5" y="510.3" text-anchor="end">Truro Down Shunt 1</text>
<text x="72.5" y="513.5" text-anchor="start">Truro South 6</text>
<text x="79.5" y="533.5" text-anchor="start">Truro South 5</text>
<text x="358.3" y="406.5" text-anchor="start">Truro Station Pump 3</text>
<text x="360" y="406.5" text-anchor="start">Truro Station</text>
</svg>
</body></html>
